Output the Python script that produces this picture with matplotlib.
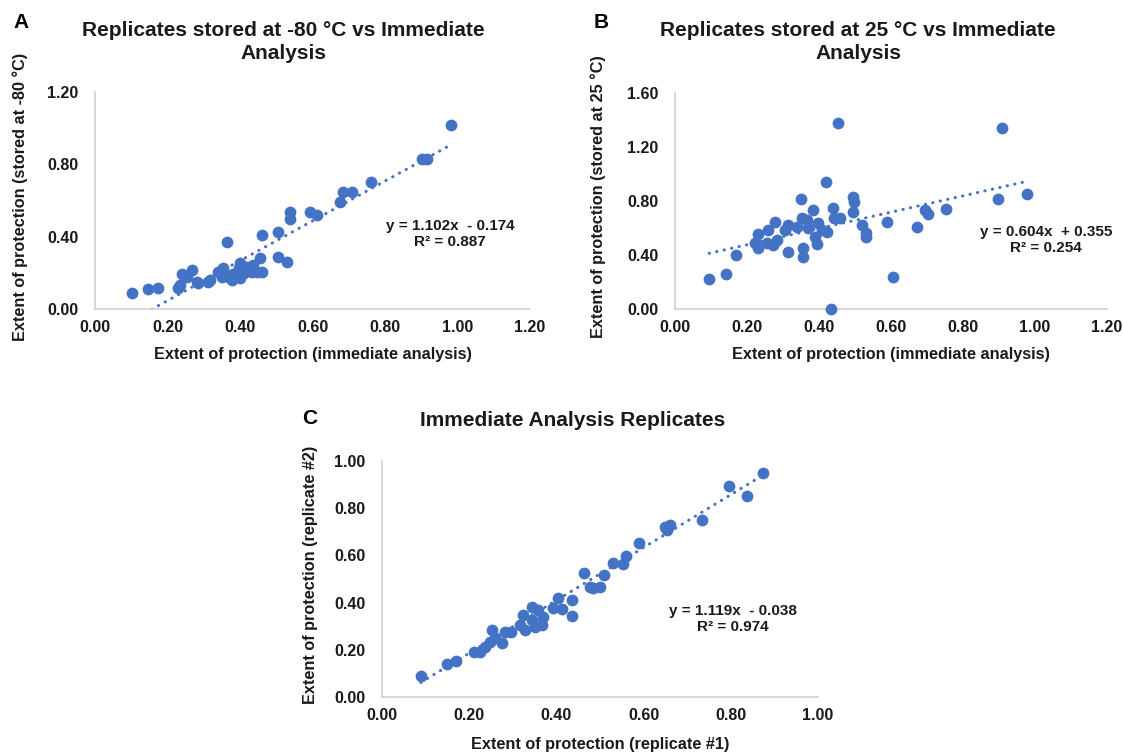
import numpy as np
import matplotlib
matplotlib.use('Agg')
import matplotlib.pyplot as plt

# ---- data ----
a_x = [0.101, 0.147, 0.175, 0.230, 0.240, 0.267, 0.281, 0.318, 0.340, 0.354,
       0.364, 0.373, 0.400, 0.400, 0.428, 0.456, 0.460, 0.460, 0.506, 0.506,
       0.530, 0.537, 0.539, 0.594, 0.612, 0.677, 0.684, 0.709, 0.760, 0.902,
       0.916, 0.983, 0.235, 0.253, 0.285, 0.313, 0.350, 0.359, 0.377, 0.382,
       0.396, 0.410, 0.419, 0.437, 0.446, 0.432]
a_y = [0.087, 0.109, 0.118, 0.114, 0.193, 0.215, 0.151, 0.160, 0.206, 0.225,
       0.372, 0.170, 0.252, 0.170, 0.215, 0.280, 0.206, 0.409, 0.427, 0.289,
       0.261, 0.538, 0.496, 0.538, 0.519, 0.593, 0.648, 0.648, 0.703, 0.832,
       0.827, 1.017, 0.133, 0.178, 0.142, 0.152, 0.178, 0.196, 0.160, 0.196,
       0.225, 0.197, 0.234, 0.243, 0.206, 0.206]

b_x = [0.095, 0.141, 0.169, 0.222, 0.231, 0.231, 0.255, 0.259, 0.273, 0.278,
       0.282, 0.306, 0.315, 0.313, 0.338, 0.350, 0.352, 0.356, 0.355, 0.366,
       0.370, 0.384, 0.389, 0.394, 0.398, 0.407, 0.419, 0.421, 0.440, 0.443,
       0.454, 0.458, 0.433, 0.495, 0.497, 0.495, 0.519, 0.531, 0.531, 0.590,
       0.605, 0.673, 0.694, 0.704, 0.753, 0.898, 0.909, 0.979]
b_y = [0.222, 0.262, 0.400, 0.487, 0.450, 0.556, 0.487, 0.585, 0.474, 0.647,
       0.511, 0.585, 0.622, 0.420, 0.610, 0.812, 0.676, 0.450, 0.388, 0.659,
       0.598, 0.733, 0.536, 0.479, 0.635, 0.585, 0.943, 0.573, 0.746, 0.672,
       1.380, 0.672, 0.000, 0.832, 0.795, 0.716, 0.622, 0.565, 0.536, 0.647,
       0.239, 0.610, 0.733, 0.704, 0.743, 0.817, 1.343, 0.852]

c_x = [0.089, 0.148, 0.170, 0.212, 0.225, 0.236, 0.248, 0.252, 0.259, 0.275,
       0.282, 0.297, 0.317, 0.324, 0.328, 0.343, 0.343, 0.351, 0.358, 0.370,
       0.366, 0.393, 0.404, 0.412, 0.435, 0.435, 0.463, 0.477, 0.485, 0.500,
       0.509, 0.529, 0.552, 0.560, 0.590, 0.649, 0.654, 0.661, 0.733, 0.797,
       0.838, 0.873]
c_y = [0.089, 0.138, 0.154, 0.189, 0.192, 0.213, 0.234, 0.284, 0.249, 0.230,
       0.277, 0.277, 0.305, 0.347, 0.284, 0.383, 0.326, 0.298, 0.369, 0.340,
       0.305, 0.376, 0.421, 0.372, 0.411, 0.343, 0.524, 0.467, 0.460, 0.467,
       0.517, 0.566, 0.564, 0.597, 0.654, 0.719, 0.708, 0.729, 0.750, 0.895,
       0.852, 0.950]

# trendline labels as printed on the chart
fits = {
    'A': (1.102, -0.174, 0.887),
    'B': (0.604, 0.355, 0.254),
    'C': (1.119, -0.038, 0.974),
}

titles = {
    'A': 'Replicates stored at -80 °C vs Immediate\nAnalysis',
    'B': 'Replicates stored at 25 °C vs Immediate\nAnalysis',
    'C': 'Immediate Analysis Replicates',
}
xlabels = {
    'A': 'Extent of protection (immediate analysis)',
    'B': 'Extent of protection (immediate analysis)',
    'C': 'Extent of protection (replicate #1)',
}
ylabels = {
    'A': 'Extent of protection (stored at -80 °C)',
    'B': 'Extent of protection (stored at 25 °C)',
    'C': 'Extent of protection (replicate #2)',
}

plt.rcParams['font.family'] = ['Liberation Sans', 'DejaVu Sans']
plt.rcParams['font.weight'] = 'bold'

W, H = 1123, 756
BLUE = '#4472C4'
TXT = '#1a1a1a'
fig = plt.figure(figsize=(W / 100, H / 100), dpi=100)


def px(x, y):
    return x / W, 1 - y / H


def rect(x0, y0, x1, y1):
    # pixel box (left, top, right, bottom) -> figure fraction
    return [x0 / W, 1 - y1 / H, (x1 - x0) / W, (y1 - y0) / H]


def panel(key, box, xs, ys, xlim, ylim, xt, yt, xlab_y, ylab_x):
    ax = fig.add_axes(rect(*box))
    ax.scatter(xs, ys, s=72, color=BLUE, linewidths=0, zorder=3, clip_on=False)
    m, b, r2 = fits[key]
    lx = np.array([min(xs), max(xs)])
    ax.plot(lx, m * lx + b, color=BLUE, lw=2.2, ls=(0, (0.1, 2.4)),
            dash_capstyle='round', zorder=2)
    ax.set_xlim(*xlim)
    ax.set_ylim(*ylim)
    ax.set_xticks(xt)
    ax.set_yticks(yt)
    ax.set_xticklabels(['%.2f' % v for v in xt])
    ax.set_yticklabels(['%.2f' % v for v in yt])
    ax.tick_params(length=0, labelsize=11.5, colors=TXT)
    ax.tick_params(axis='x', pad=8)
    ax.tick_params(axis='y', pad=12)
    for s in ('top', 'right'):
        ax.spines[s].set_visible(False)
    for s in ('left', 'bottom'):
        ax.spines[s].set_color('#d0d0d0')
        ax.spines[s].set_linewidth(1.2)
    cx = (box[0] + box[2]) / 2
    cy = (box[1] + box[3]) / 2
    fig.text(*px(cx, xlab_y), xlabels[key], ha='center', va='center',
             fontsize=11.7, color=TXT)
    fig.text(*px(ylab_x, cy - 4), ylabels[key], ha='center', va='center',
             rotation=90, fontsize=11.7, color=TXT)
    return ax


panel('A', (95, 92, 530, 309), a_x, a_y, (0, 1.2), (0, 1.2),
      [0, 0.2, 0.4, 0.6, 0.8, 1.0, 1.2], [0, 0.4, 0.8, 1.2], 354, 20)
panel('B', (675, 93, 1107, 309), b_x, b_y, (0, 1.2), (0, 1.6),
      [0, 0.2, 0.4, 0.6, 0.8, 1.0, 1.2], [0, 0.4, 0.8, 1.2, 1.6], 354, 598)
panel('C', (382, 461, 818, 697), c_x, c_y, (0, 1.0), (0, 1.0),
      [0, 0.2, 0.4, 0.6, 0.8, 1.0], [0, 0.2, 0.4, 0.6, 0.8, 1.0], 745, 310)

# titles
fig.text(*px(283, 42), titles['A'], ha='center', va='center', fontsize=15,
         color=TXT, linespacing=1.3)
fig.text(*px(858, 42), titles['B'], ha='center', va='center', fontsize=15,
         color=TXT, linespacing=1.3)
fig.text(*px(573, 420), titles['C'], ha='center', va='center', fontsize=15,
         color=TXT)

# panel letters
for k, (x, y) in {'A': (21, 23), 'B': (601, 23), 'C': (310, 418)}.items():
    fig.text(*px(x, y), k, ha='center', va='center', fontsize=15, color='black')

# trendline equations
for k, (x, y) in {'A': (450, 234), 'B': (1046, 240), 'C': (733, 619)}.items():
    m, b, r2 = fits[k]
    sign = '+' if b >= 0 else '-'
    txt = 'y = %.3fx  %s %.3f\nR² = %.3f' % (m, sign, abs(b), r2)
    fig.text(*px(x, y), txt, ha='center', va='center', fontsize=11,
             color=TXT, linespacing=1.2)

fig.savefig('out.png', dpi=100, facecolor='white')
